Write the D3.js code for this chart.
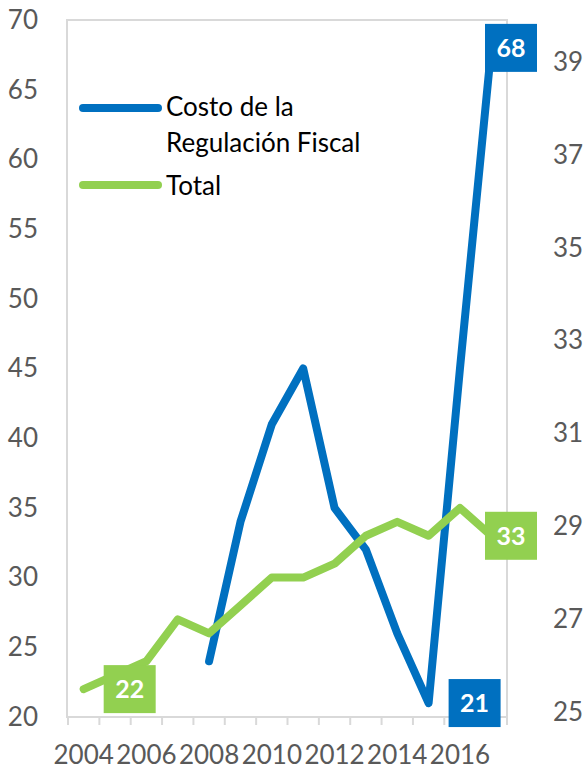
<!DOCTYPE html>
<html>
<head>
<meta charset="utf-8">
<script src="https://cdn.jsdelivr.net/npm/d3@7"></script>
<style>
  body { margin: 0; background: #fff; }
  svg { display: block; font-family: Lato, "Open Sans", sans-serif; }
</style>
</head>
<body>
<script>
// data
var years = ["2004", "2005", "2006", "2007", "2008", "2009", "2010", "2011",
             "2012", "2013", "2014", "2015", "2016", "2017"];
var costoValues = [null, null, null, null, 24, 34, 41, 45, 35, 32, 26, 21, 45, 68];
var totalValues = [22, 23, 24, 27, 26, 28, 30, 30, 31, 33, 34, 33, 35, 33];
var leftTicks = [20, 25, 30, 35, 40, 45, 50, 55, 60, 65, 70];
var rightTicks = [25, 27, 29, 31, 33, 35, 37, 39];
var yearLabels = ["2004", "2006", "2008", "2010", "2012", "2014", "2016"];
var costoLabels = [11, 13];   // index of labelled points
var totalLabels = [0, 13];

var width = 585,
    height = 769;
var plot = {left: 67, right: 507, top: 20, bottom: 717};

var svg = d3.select("body")
    .append("svg")
    .attr("width", width)
    .attr("height", height);

var x = d3.scaleBand()
    .domain(years)
    .range([plot.left + 1, plot.right]);

var yLeft = d3.scaleLinear()
    .domain([20, 70])
    .range([plot.bottom, plot.top]);

var yRight = d3.scaleLinear()
    .domain([24.9, 39.9])
    .range([plot.bottom, plot.top]);

function cx(i) {
    return x(years[i]) + x.bandwidth() / 2;
}

// plot frame
svg.append("rect")
    .attr("x", plot.left)
    .attr("y", plot.top)
    .attr("width", plot.right - plot.left)
    .attr("height", plot.bottom - plot.top)
    .attr("fill", "none")
    .attr("stroke", "#d9d9d9")
    .attr("stroke-width", 2);

// category tick marks between bands
var bounds = years.map(function(d) { return x(d); }).concat([plot.right]);
svg.append("g")
    .selectAll("line")
    .data(bounds)
    .enter().append("line")
    .attr("x1", function(d) { return d; })
    .attr("x2", function(d) { return d; })
    .attr("y1", plot.bottom)
    .attr("y2", plot.bottom + 8)
    .attr("stroke", "#d9d9d9")
    .attr("stroke-width", 2);

var xAxis = svg.append("g")
    .attr("transform", "translate(0," + plot.bottom + ")")
    .call(d3.axisBottom(x).tickValues(yearLabels).tickSize(0).tickPadding(30));

var leftAxis = svg.append("g")
    .attr("transform", "translate(" + plot.left + ",0)")
    .call(d3.axisLeft(yLeft).tickValues(leftTicks).tickSize(0).tickPadding(29));

var rightAxis = svg.append("g")
    .attr("transform", "translate(" + plot.right + ",0)")
    .call(d3.axisRight(yRight).tickValues(rightTicks).tickSize(0).tickPadding(46));

[xAxis, leftAxis, rightAxis].forEach(function(g) {
    g.select(".domain").remove();
    g.selectAll("text")
        .attr("fill", "#595959")
        .style("font-size", "26px")
        .style("font-family", "Lato, 'Open Sans', sans-serif");
});
xAxis.selectAll("text").attr("dy", "0.66em");

var line = d3.line()
    .defined(function(d) { return d != null; })
    .x(function(d, i) { return cx(i); })
    .y(function(d) { return yLeft(d); });

svg.append("path")
    .datum(costoValues)
    .attr("fill", "none")
    .attr("stroke", "#0070c0")
    .attr("stroke-width", 8)
    .attr("stroke-linecap", "round")
    .attr("stroke-linejoin", "round")
    .attr("d", line);

svg.append("path")
    .datum(totalValues)
    .attr("fill", "none")
    .attr("stroke", "#92d050")
    .attr("stroke-width", 8)
    .attr("stroke-linecap", "round")
    .attr("stroke-linejoin", "round")
    .attr("d", line);

// value labels
function addLabels(idx, values, color) {
    var g = svg.append("g")
        .selectAll("g")
        .data(idx)
        .enter().append("g")
        .attr("transform", function(i) {
            var left = Math.min(cx(i) + 20, 485);
            return "translate(" + left + "," + (yLeft(values[i]) - 24) + ")";
        });
    g.append("rect")
        .attr("width", 52)
        .attr("height", 48)
        .attr("fill", color);
    g.append("text")
        .attr("x", 26)
        .attr("y", 24)
        .attr("dy", "0.36em")
        .attr("text-anchor", "middle")
        .attr("fill", "#fff")
        .style("font-size", "25px")
        .style("font-weight", "bold")
        .text(function(i) { return values[i]; });
}
addLabels(costoLabels, costoValues, "#0070c0");
addLabels(totalLabels, totalValues, "#92d050");

// legend
var legend = svg.append("g");
legend.append("line")
    .attr("x1", 83).attr("x2", 158)
    .attr("y1", 108).attr("y2", 108)
    .attr("stroke", "#0070c0")
    .attr("stroke-width", 8)
    .attr("stroke-linecap", "round");
legend.append("line")
    .attr("x1", 83).attr("x2", 158)
    .attr("y1", 185).attr("y2", 185)
    .attr("stroke", "#92d050")
    .attr("stroke-width", 8)
    .attr("stroke-linecap", "round");
legend.append("text")
    .attr("x", 166).attr("y", 116)
    .style("font-size", "26px")
    .attr("fill", "#000")
    .text("Costo de la");
legend.append("text")
    .attr("x", 166).attr("y", 152)
    .style("font-size", "26px")
    .attr("fill", "#000")
    .text("Regulación Fiscal");
legend.append("text")
    .attr("x", 166).attr("y", 195)
    .style("font-size", "26px")
    .attr("fill", "#000")
    .text("Total");
</script>
</body>
</html>
